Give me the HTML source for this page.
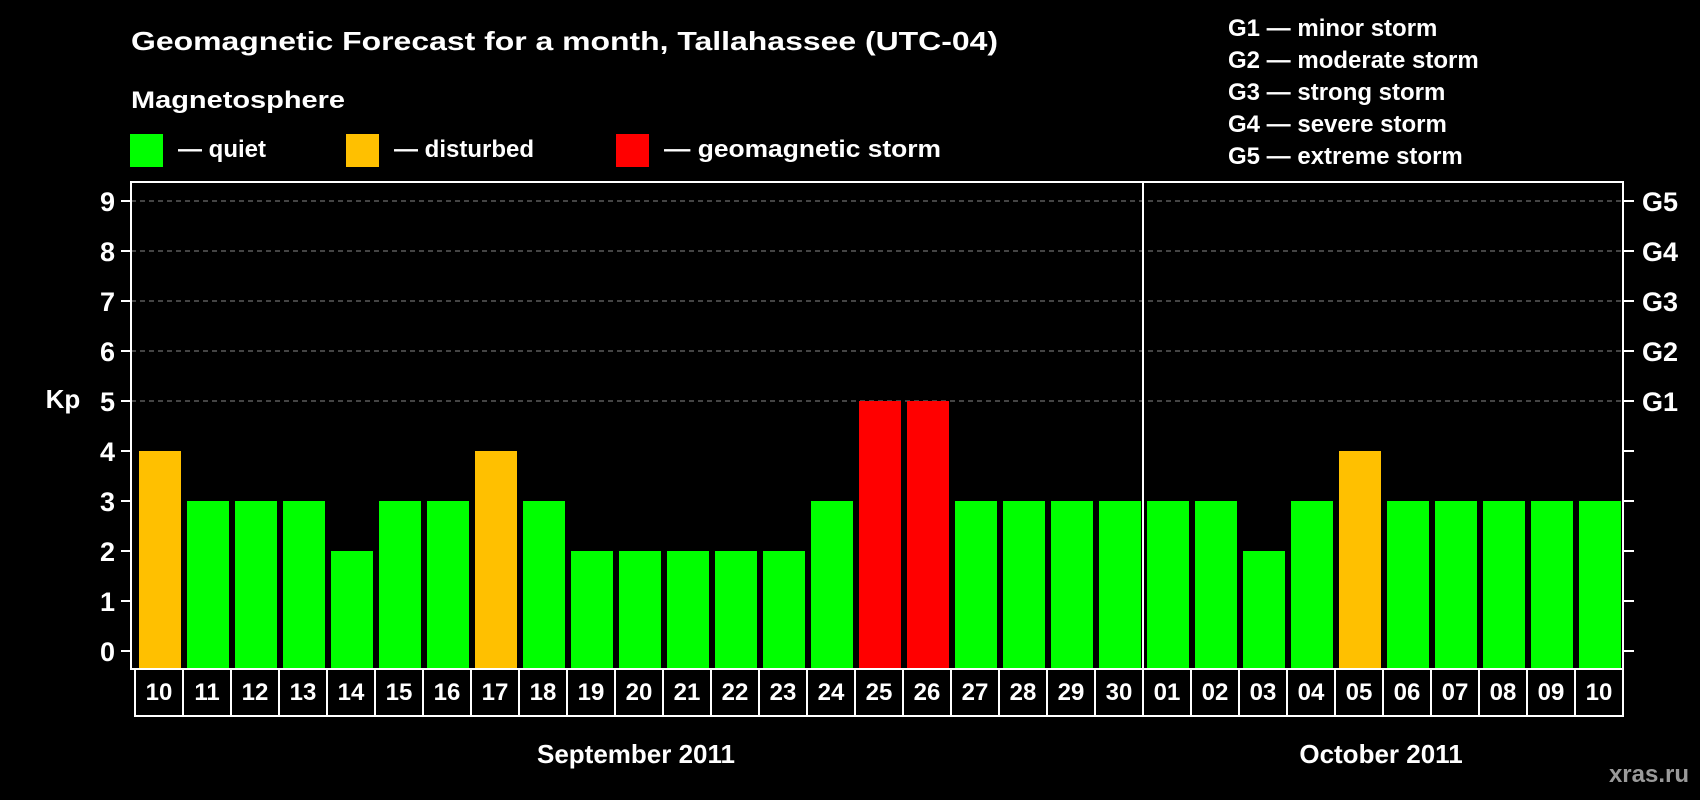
<!DOCTYPE html>
<html><head><meta charset="utf-8">
<style>
html,body{margin:0;padding:0;background:#000;}
svg{display:block;font-family:"Liberation Sans",Arial,sans-serif;font-weight:bold;}
</style></head>
<body>
<svg id="chart" width="1700" height="800" viewBox="0 0 1700 800" xmlns="http://www.w3.org/2000/svg">
<rect width="1700" height="800" fill="#000"/>
<text x="131" y="50" fill="#fff" font-size="26" textLength="867" lengthAdjust="spacingAndGlyphs">Geomagnetic Forecast for a month, Tallahassee (UTC-04)</text>
<text x="131" y="108" fill="#fff" font-size="24" textLength="214" lengthAdjust="spacingAndGlyphs">Magnetosphere</text>
<g>
<rect x="130" y="134" width="33" height="33" fill="#00ff00"/>
<text x="178" y="157" fill="#fff" font-size="24">— quiet</text></g>
<g>
<rect x="346" y="134" width="33" height="33" fill="#ffc000"/>
<text x="394" y="157" fill="#fff" font-size="24">— disturbed</text></g>
<g>
<rect x="616" y="134" width="33" height="33" fill="#ff0000"/>
<text x="664" y="157" fill="#fff" font-size="24" textLength="277" lengthAdjust="spacingAndGlyphs">— geomagnetic storm</text></g>
<g fill="#fff" font-size="24">
<text x="1228" y="36">G1 — minor storm</text>
<text x="1228" y="68">G2 — moderate storm</text>
<text x="1228" y="100">G3 — strong storm</text>
<text x="1228" y="132">G4 — severe storm</text>
<text x="1228" y="164">G5 — extreme storm</text>
</g>
<text x="63" y="408" fill="#fff" font-size="26" text-anchor="middle">Kp</text>
<g id="grid"></g>
<g id="bars"></g>
<g id="axes"></g>
<g id="dates"></g>
<text x="636" y="763" fill="#fff" font-size="26" text-anchor="middle">September 2011</text>
<text x="1381" y="763" fill="#fff" font-size="26" text-anchor="middle">October 2011</text>
<text x="1689" y="782" fill="#9a9a9a" font-size="24" text-anchor="end">xras.ru</text>
</svg>
<script>
const dayLabels = ["10","11","12","13","14","15","16","17","18","19","20","21","22","23","24","25","26","27","28","29","30","01","02","03","04","05","06","07","08","09","10"];
const kpValues = [4,3,3,3,2,3,3,4,3,2,2,2,2,2,3,5,5,3,3,3,3,3,3,2,3,4,3,3,3,3,3];
const yTicks = [0,1,2,3,4,5,6,7,8,9];
const gLabels = ["G1","G2","G3","G4","G5"];
const gLevels = [5,6,7,8,9];
const monthSplitIndex = 21;

const NS = "http://www.w3.org/2000/svg";
const boxL = 131, boxR = 1623, boxT = 182, boxB = 669;
const slot0 = 135, slotW = 48;
function yScale(v){ return 651 - v * 50; }
function xScale(i){ return slot0 + i * slotW; }
function mk(tag, attrs, parent){ const e = document.createElementNS(NS, tag); for (const k in attrs) e.setAttribute(k, attrs[k]); parent.appendChild(e); return e; }
function colorFor(v){ return v >= 5 ? "#ff0000" : (v >= 4 ? "#ffc000" : "#00ff00"); }

const grid = document.getElementById("grid");
gLevels.forEach(v => {
  const l = mk("line", {x1: boxL, x2: boxR, y1: yScale(v), y2: yScale(v), stroke: "#888", "stroke-width": 1, "stroke-dasharray": "5,4"}, grid);
  
  
});

const bars = document.getElementById("bars");
kpValues.forEach((v, i) => {
  const r = mk("rect", {x: xScale(i) + 4, y: yScale(v), width: 42, height: boxB - yScale(v), fill: colorFor(v)}, bars);
  
  
});

const axes = document.getElementById("axes");
const box = mk("rect", {x: boxL, y: boxT, width: boxR - boxL, height: boxB - boxT, fill: "none", stroke: "#fff", "stroke-width": 2}, axes);


const div = mk("line", {x1: xScale(monthSplitIndex), x2: xScale(monthSplitIndex), y1: boxT, y2: boxB, stroke: "#fff", "stroke-width": 2}, axes);


yTicks.forEach(v => {
  const y = yScale(v);
  const t1 = mk("line", {x1: boxL - 10, x2: boxL, y1: y, y2: y, stroke: "#fff", "stroke-width": 2}, axes);
  
  
  const t2 = mk("line", {x1: boxR, x2: boxR + 11, y1: y, y2: y, stroke: "#fff", "stroke-width": 2}, axes);
  
  
  const tx = mk("text", {x: 115, y: y + 10, fill: "#fff", "font-size": 27, "text-anchor": "end"}, axes);
  tx.textContent = v;
  
  
});
gLabels.forEach((g, k) => {
  const tx = mk("text", {x: 1642, y: yScale(gLevels[k]) + 10, fill: "#fff", "font-size": 27}, axes);
  tx.textContent = g;
  
  
});

const dates = document.getElementById("dates");
dayLabels.forEach((d, i) => {
  const c = mk("rect", {x: xScale(i), y: boxB, width: slotW, height: 47, fill: "none", stroke: "#fff", "stroke-width": 2}, dates);
  
  
  const t = mk("text", {x: xScale(i) + slotW / 2, y: boxB + 31, fill: "#fff", "font-size": 24, "text-anchor": "middle"}, dates);
  t.textContent = d;
  
  
});
</script>
</body></html>
